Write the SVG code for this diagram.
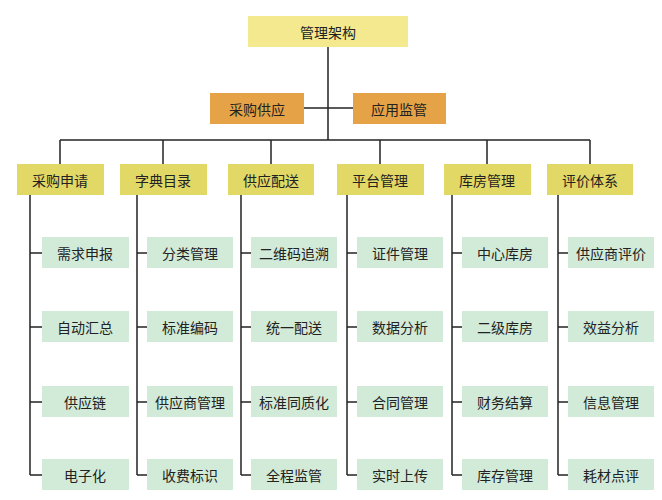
<svg xmlns="http://www.w3.org/2000/svg" width="662" height="500" viewBox="0 0 662 500">
<style>
text{font-family:"Noto Sans CJK SC","Noto Sans",sans-serif;font-size:14px;fill:#222;text-anchor:middle;dominant-baseline:central}
.top{fill:#f4e98e}.org{fill:#e6a246}.cat{fill:#e2d866}.leaf{fill:#d2ebd8}
.c line{stroke:#222;stroke-width:1.5}
</style>
<rect width="662" height="500" fill="#fff"/>
<g class="c">
<line x1="328" y1="47" x2="328" y2="140"/><line x1="304" y1="108" x2="353" y2="108"/>
<line x1="60" y1="140" x2="590" y2="140"/>
<line x1="60" y1="140" x2="60" y2="164"/><line x1="163" y1="140" x2="163" y2="164"/><line x1="271" y1="140" x2="271" y2="164"/><line x1="380" y1="140" x2="380" y2="164"/><line x1="487" y1="140" x2="487" y2="164"/><line x1="590" y1="140" x2="590" y2="164"/>
<line x1="30" y1="195" x2="30" y2="475"/><line x1="137" y1="195" x2="137" y2="475"/><line x1="241" y1="195" x2="241" y2="475"/><line x1="347" y1="195" x2="347" y2="475"/><line x1="452" y1="195" x2="452" y2="475"/><line x1="558" y1="195" x2="558" y2="475"/>
<line x1="30" y1="253" x2="42" y2="253"/><line x1="30" y1="327" x2="42" y2="327"/><line x1="30" y1="402" x2="42" y2="402"/><line x1="30" y1="475" x2="42" y2="475"/>
<line x1="137" y1="253" x2="147" y2="253"/><line x1="137" y1="327" x2="147" y2="327"/><line x1="137" y1="402" x2="147" y2="402"/><line x1="137" y1="475" x2="147" y2="475"/>
<line x1="241" y1="253" x2="251" y2="253"/><line x1="241" y1="327" x2="251" y2="327"/><line x1="241" y1="402" x2="251" y2="402"/><line x1="241" y1="475" x2="251" y2="475"/>
<line x1="347" y1="253" x2="357" y2="253"/><line x1="347" y1="327" x2="357" y2="327"/><line x1="347" y1="402" x2="357" y2="402"/><line x1="347" y1="475" x2="357" y2="475"/>
<line x1="452" y1="253" x2="462" y2="253"/><line x1="452" y1="327" x2="462" y2="327"/><line x1="452" y1="402" x2="462" y2="402"/><line x1="452" y1="475" x2="462" y2="475"/>
<line x1="558" y1="253" x2="568" y2="253"/><line x1="558" y1="327" x2="568" y2="327"/><line x1="558" y1="402" x2="568" y2="402"/><line x1="558" y1="475" x2="568" y2="475"/>
</g>
<g id="root"><rect class="top" x="248" y="16" width="160" height="31"/><text x="328" y="32">管理架构</text></g>
<g id="o1"><rect class="org" x="210" y="93" width="94" height="31"/><text x="257" y="109">采购供应</text></g>
<g id="o2"><rect class="org" x="353" y="93" width="93" height="31"/><text x="399" y="109">应用监管</text></g>
<g id="c1"><rect class="cat" x="17" y="164" width="87" height="31"/><text x="60" y="180">采购申请</text></g>
<g id="c2"><rect class="cat" x="120" y="164" width="87" height="31"/><text x="163" y="180">字典目录</text></g>
<g id="c3"><rect class="cat" x="228" y="164" width="86" height="31"/><text x="271" y="180">供应配送</text></g>
<g id="c4"><rect class="cat" x="337" y="164" width="87" height="31"/><text x="380" y="180">平台管理</text></g>
<g id="c5"><rect class="cat" x="444" y="164" width="87" height="31"/><text x="487" y="180">库房管理</text></g>
<g id="c6"><rect class="cat" x="547" y="164" width="86" height="31"/><text x="590" y="180">评价体系</text></g>
<g id="l11"><rect class="leaf" x="42" y="237" width="87" height="31"/><text x="85" y="253">需求申报</text></g>
<g id="l12"><rect class="leaf" x="42" y="311" width="87" height="31"/><text x="85" y="327">自动汇总</text></g>
<g id="l13"><rect class="leaf" x="42" y="386" width="87" height="31"/><text x="85" y="402">供应链</text></g>
<g id="l14"><rect class="leaf" x="42" y="459" width="87" height="31"/><text x="85" y="475">电子化</text></g>
<g id="l21"><rect class="leaf" x="147" y="237" width="86" height="31"/><text x="190" y="253">分类管理</text></g>
<g id="l22"><rect class="leaf" x="147" y="311" width="86" height="31"/><text x="190" y="327">标准编码</text></g>
<g id="l23"><rect class="leaf" x="147" y="386" width="86" height="31"/><text x="190" y="402">供应商管理</text></g>
<g id="l24"><rect class="leaf" x="147" y="459" width="86" height="31"/><text x="190" y="475">收费标识</text></g>
<g id="l31"><rect class="leaf" x="251" y="237" width="86" height="31"/><text x="294" y="253">二维码追溯</text></g>
<g id="l32"><rect class="leaf" x="251" y="311" width="86" height="31"/><text x="294" y="327">统一配送</text></g>
<g id="l33"><rect class="leaf" x="251" y="386" width="86" height="31"/><text x="294" y="402">标准同质化</text></g>
<g id="l34"><rect class="leaf" x="251" y="459" width="86" height="31"/><text x="294" y="475">全程监管</text></g>
<g id="l41"><rect class="leaf" x="357" y="237" width="86" height="31"/><text x="400" y="253">证件管理</text></g>
<g id="l42"><rect class="leaf" x="357" y="311" width="86" height="31"/><text x="400" y="327">数据分析</text></g>
<g id="l43"><rect class="leaf" x="357" y="386" width="86" height="31"/><text x="400" y="402">合同管理</text></g>
<g id="l44"><rect class="leaf" x="357" y="459" width="86" height="31"/><text x="400" y="475">实时上传</text></g>
<g id="l51"><rect class="leaf" x="462" y="237" width="86" height="31"/><text x="505" y="253">中心库房</text></g>
<g id="l52"><rect class="leaf" x="462" y="311" width="86" height="31"/><text x="505" y="327">二级库房</text></g>
<g id="l53"><rect class="leaf" x="462" y="386" width="86" height="31"/><text x="505" y="402">财务结算</text></g>
<g id="l54"><rect class="leaf" x="462" y="459" width="86" height="31"/><text x="505" y="475">库存管理</text></g>
<g id="l61"><rect class="leaf" x="568" y="237" width="86" height="31"/><text x="611" y="253">供应商评价</text></g>
<g id="l62"><rect class="leaf" x="568" y="311" width="86" height="31"/><text x="611" y="327">效益分析</text></g>
<g id="l63"><rect class="leaf" x="568" y="386" width="86" height="31"/><text x="611" y="402">信息管理</text></g>
<g id="l64"><rect class="leaf" x="568" y="459" width="86" height="31"/><text x="611" y="475">耗材点评</text></g>
</svg>
